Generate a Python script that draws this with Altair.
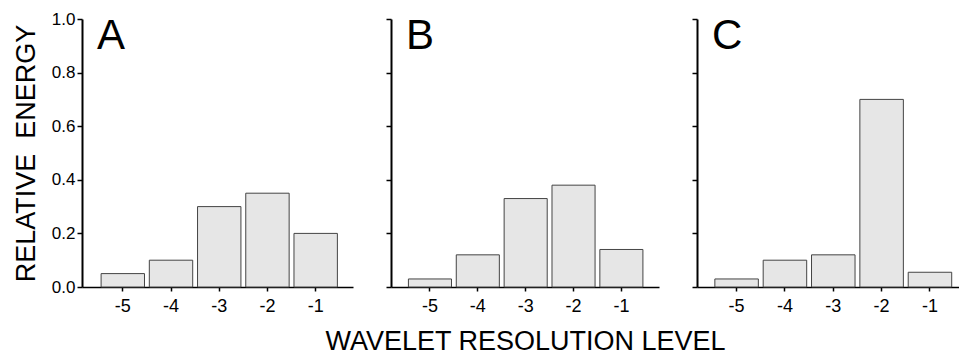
import altair as alt
import pandas as pd

levels = ["-5", "-4", "-3", "-2", "-1"]
energy_a = [0.05, 0.10, 0.30, 0.35, 0.20]
energy_b = [0.03, 0.12, 0.33, 0.38, 0.14]
energy_c = [0.03, 0.10, 0.12, 0.70, 0.055]
panel_letters = ["A", "B", "C"]
y_ticks = [0.0, 0.2, 0.4, 0.6, 0.8, 1.0]
x_title = "WAVELET RESOLUTION LEVEL"
y_title = "RELATIVE\u00a0 ENERGY"

FONT = "Liberation Sans"


def panel(values, letter, width, pad_outer, align, first=False, middle=False):
    df = pd.DataFrame({"level": levels, "energy": values})
    x_kw = dict(labelAngle=0, labelFontSize=18, labelFont=FONT, labelColor="black",
                tickSize=4, tickColor="black", tickWidth=1.5,
                domainColor="black", domainWidth=1.5, labelPadding=6, grid=False)
    if middle:
        x_kw.update(title=x_title, titleFontSize=27, titleFont=FONT,
                    titleFontWeight="normal", titleColor="black", titlePadding=13)
    else:
        x_kw.update(title=None)
    y_kw = dict(values=y_ticks, format=".1f", labelFontSize=17, labelFont=FONT,
                labelColor="black", tickSize=5, tickColor="black", tickWidth=1.5,
                domainColor="black", domainWidth=2, labelPadding=2, grid=False,
                labels=first)
    if first:
        y_kw.update(title=y_title, titleFontSize=27, titleFont=FONT,
                    titleFontWeight="normal", titleColor="black", titlePadding=11)
    else:
        y_kw.update(title=None)

    bars = alt.Chart(df).mark_bar(color="#e6e6e6", stroke="#444444", strokeWidth=1).encode(
        x=alt.X("level:N", sort=levels,
                scale=alt.Scale(paddingInner=0.1, paddingOuter=pad_outer, align=align),
                axis=alt.Axis(**x_kw)),
        y=alt.Y("energy:Q", scale=alt.Scale(domain=[0, 1], nice=False),
                axis=alt.Axis(**y_kw)),
    )
    txt = alt.Chart(pd.DataFrame({"t": [letter]})).mark_text(
        align="left", baseline="alphabetic", fontSize=42, font=FONT, color="black"
    ).encode(text="t:N", x=alt.value(15), y=alt.value(30))
    return alt.layer(bars, txt).properties(width=width, height=268)


a = panel(energy_a, panel_letters[0], 271, 0.36, 0.55, first=True)
b = panel(energy_b, panel_letters[1], 268, 0.35, 0.52, middle=True)
c = panel(energy_c, panel_letters[2], 262, 0.26, 0.71)

chart = alt.hconcat(a, b, c, spacing=38, bounds="flush").properties(
    padding={"left": 12, "top": 10, "right": 0, "bottom": 0},
    background="white",
).configure_view(strokeWidth=0)

chart.save("out.html", embed_options={"renderer": "svg", "actions": False})
